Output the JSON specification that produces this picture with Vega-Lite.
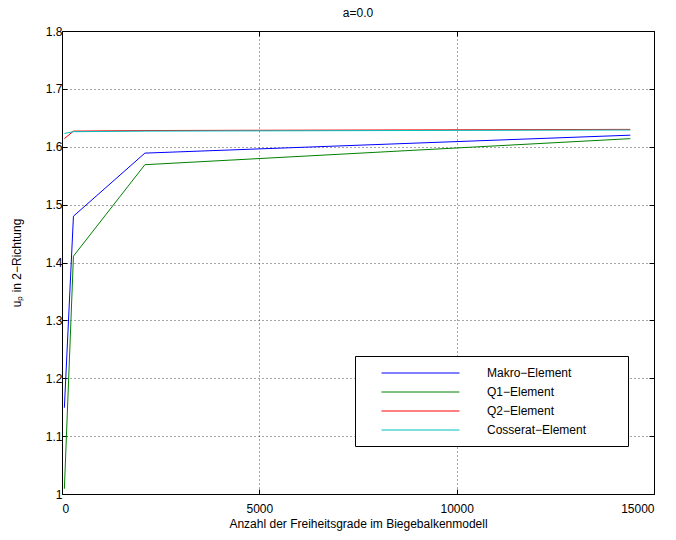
{
  "$schema": "https://vega.github.io/schema/vega-lite/v6.json",
  "width": 592,
  "height": 463,
  "autosize": "none",
  "padding": {"left": 62, "top": 31, "right": 22, "bottom": 46},
  "title": {"text": "a=0.0", "fontSize": 12, "fontWeight": "normal", "font": "Liberation Sans", "offset": 5, "anchor": "middle", "color": "black"},
  "config": {
    "font": "Liberation Sans",
    "view": {"stroke": "black", "strokeWidth": 1},
    "axis": {
      "domain": false,
      "tickColor": "black",
      "tickSize": -5,
      "labelFontSize": 12,
      "labelColor": "black",
      "labelFont": "Liberation Sans",
      "titleFontSize": 12,
      "titleFontWeight": "normal",
      "titleColor": "black",
      "titleFont": "Liberation Sans",
      "gridColor": "black",
      "gridDash": [1, 3],
      "gridOpacity": 0.7
    }
  },
  "data": {
    "values": [
      {"dof": 60, "up": 1.149, "element": "Makro−Element"},
      {"dof": 290, "up": 1.480, "element": "Makro−Element"},
      {"dof": 2100, "up": 1.589, "element": "Makro−Element"},
      {"dof": 14400, "up": 1.620, "element": "Makro−Element"},
      {"dof": 60, "up": 1.009, "element": "Q1−Element"},
      {"dof": 290, "up": 1.411, "element": "Q1−Element"},
      {"dof": 2100, "up": 1.569, "element": "Q1−Element"},
      {"dof": 14400, "up": 1.614, "element": "Q1−Element"},
      {"dof": 60, "up": 1.614, "element": "Q2−Element"},
      {"dof": 290, "up": 1.627, "element": "Q2−Element"},
      {"dof": 2100, "up": 1.628, "element": "Q2−Element"},
      {"dof": 14400, "up": 1.630, "element": "Q2−Element"},
      {"dof": 60, "up": 1.623, "element": "Cosserat−Element"},
      {"dof": 290, "up": 1.626, "element": "Cosserat−Element"},
      {"dof": 2100, "up": 1.627, "element": "Cosserat−Element"},
      {"dof": 14400, "up": 1.629, "element": "Cosserat−Element"}
    ]
  },
  "layer": [
    {
      "mark": {"type": "line", "strokeWidth": 1, "opacity": 0},
      "encoding": {
        "x": {"field": "dof", "type": "quantitative", "scale": {"domain": [0, 15000], "nice": false},
              "axis": {"orient": "top", "labels": false, "title": null, "grid": false, "values": [0, 5000, 10000, 15000]}},
        "y": {"field": "up", "type": "quantitative", "scale": {"domain": [1, 1.8], "nice": false, "zero": false},
              "axis": {"orient": "right", "labels": false, "title": null, "grid": false, "values": [1, 1.1, 1.2, 1.3, 1.4, 1.5, 1.6, 1.7, 1.8]}},
        "detail": {"field": "element"}
      }
    },
    {
      "mark": {"type": "line", "strokeWidth": 1, "clip": true},
      "encoding": {
        "x": {"field": "dof", "type": "quantitative",
              "axis": {"orient": "bottom", "title": "Anzahl der Freiheitsgrade im Biegebalkenmodell", "format": "d", "values": [0, 5000, 10000, 15000], "labelPadding": 14, "titlePadding": 4, "grid": true}},
        "y": {"field": "up", "type": "quantitative",
              "axis": {"orient": "left", "title": "uₚ in 2−Richtung", "format": "~g", "values": [1, 1.1, 1.2, 1.3, 1.4, 1.5, 1.6, 1.7, 1.8], "labelPadding": 5, "titlePadding": 22, "grid": true}},
        "color": {
          "field": "element", "type": "nominal",
          "scale": {"domain": ["Makro−Element", "Q1−Element", "Q2−Element", "Cosserat−Element"], "range": ["#0000ff", "#008000", "#ff0000", "#00bfbf"]},
          "legend": {
            "title": null, "orient": "none", "legendX": 293, "legendY": 325,
            "strokeColor": "black", "fillColor": "white", "padding": 10,
            "symbolType": "M -6 0 L 6 0 M 30 0", "symbolSize": 169, "symbolStrokeWidth": 1,
            "symbolOffset": 48.5, "labelOffset": 59.5, "labelFontSize": 12, "labelColor": "black",
            "labelFont": "Liberation Sans", "rowPadding": 6
          }
        }
      }
    }
  ],
  "resolve": {"axis": {"x": "independent", "y": "independent"}}
}
